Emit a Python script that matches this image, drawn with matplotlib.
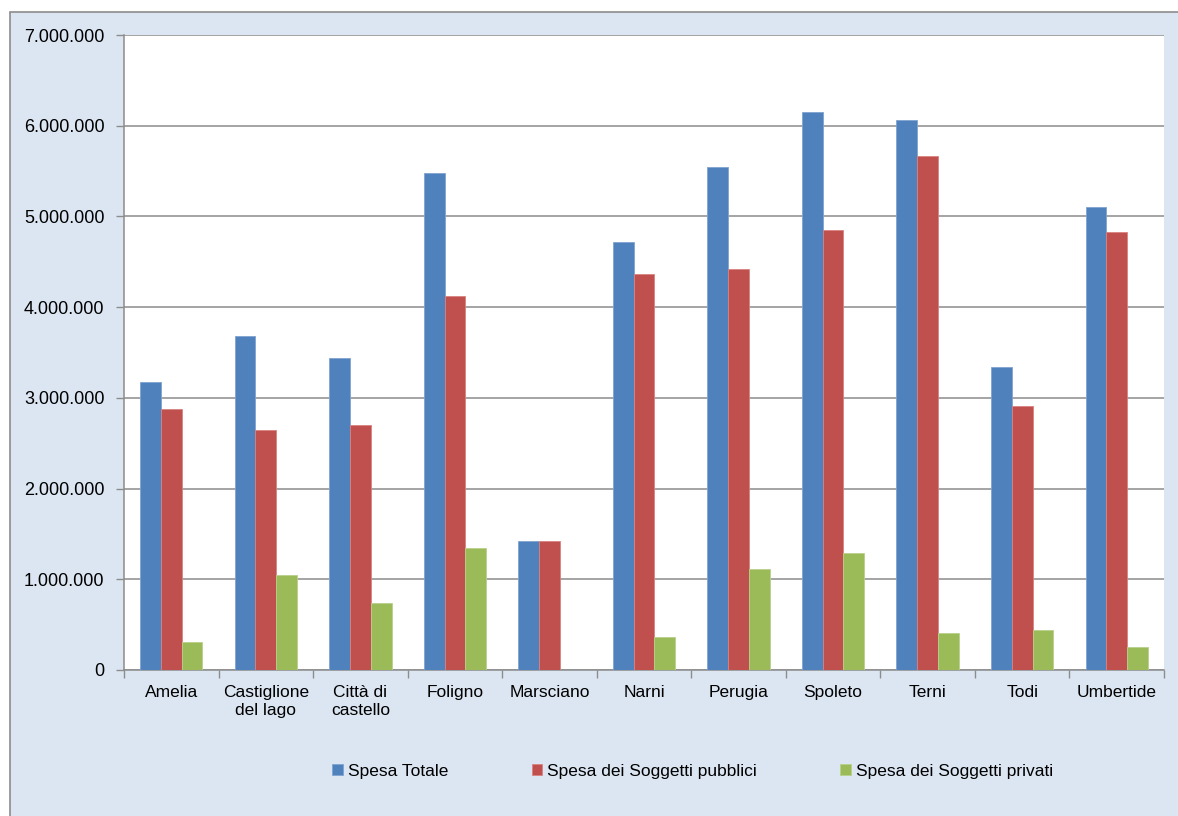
import numpy as np
import matplotlib.pyplot as plt
from matplotlib.patches import Rectangle
from matplotlib.ticker import FuncFormatter

comuni = ['Amelia', 'Castiglione\ndel lago', 'Città di\ncastello', 'Foligno', 'Marsciano',
          'Narni', 'Perugia', 'Spoleto', 'Terni', 'Todi', 'Umbertide']
spesa_totale = [3175000, 3680000, 3440000, 5480000, 1420000, 4720000,
                5550000, 6150000, 6060000, 3340000, 5100000]
spesa_pubblici = [2880000, 2650000, 2700000, 4120000, 1420000, 4370000,
                  4420000, 4850000, 5670000, 2910000, 4830000]
spesa_privati = [310000, 1050000, 740000, 1350000, 0, 360000,
                 1110000, 1290000, 410000, 440000, 250000]

serie = ['Spesa Totale', 'Spesa dei Soggetti pubblici', 'Spesa dei Soggetti privati']
colori = ['#4F81BD', '#C0504D', '#9BBB59']
bordi = ['#7FA3D1', '#D98280', '#B8D08A']

plt.rcParams['font.family'] = ['Liberation Sans', 'DejaVu Sans']

fig = plt.figure(figsize=(11.78, 8.16), dpi=100, facecolor='white')
# sfondo del grafico (area esterna azzurrina con bordo, tagliata a destra e in basso)
fig.patches.append(Rectangle((10 / 1178, -0.1), 1.2, 1.1 - 12 / 816, transform=fig.transFigure,
                             facecolor='#DCE6F2', edgecolor='#8C8C8C', linewidth=1.2, zorder=-1))

ax = fig.add_axes([124 / 1178, 146 / 816, 1040 / 1178, 635 / 816])
ax.set_facecolor('white')

x = np.arange(len(comuni))
w = 0.22
for i, (vals, c, e) in enumerate(zip([spesa_totale, spesa_pubblici, spesa_privati], colori, bordi)):
    ax.bar(x + (i - 1) * w, vals, width=w, color=c, edgecolor=e, linewidth=0.6,
           label=serie[i], zorder=3)

ax.set_xlim(-0.5, len(comuni) - 0.5)
ax.set_ylim(0, 7000000)
ax.set_yticks(np.arange(0, 7000001, 1000000))
ax.yaxis.set_major_formatter(FuncFormatter(lambda v, p: '0' if v == 0 else f'{int(v):,}'.replace(',', '.')))
ax.grid(axis='y', color='#8C8C8C', linewidth=1.1, zorder=0)

ax.set_xticks(x)
ax.set_xticklabels(comuni, fontsize=12.5)
ax.set_xticks(np.arange(-0.5, len(comuni), 1), minor=True)
ax.tick_params(axis='x', which='major', length=0, pad=11)
ax.tick_params(axis='x', which='minor', length=6, color='#8C8C8C', width=1)
ax.tick_params(axis='y', length=6, color='#8C8C8C', width=1, labelsize=13, pad=8)

for s in ['top', 'right']:
    ax.spines[s].set_visible(False)
for s in ['left', 'bottom']:
    ax.spines[s].set_color('#8C8C8C')
    ax.spines[s].set_linewidth(1.1)

fig.legend(loc='center', bbox_to_anchor=(0.588, 0.055), ncol=3, frameon=False,
           fontsize=12.5, handlelength=0.6, handleheight=0.6, handletextpad=0.3,
           columnspacing=4.8)

plt.savefig('out.png', dpi=100)
